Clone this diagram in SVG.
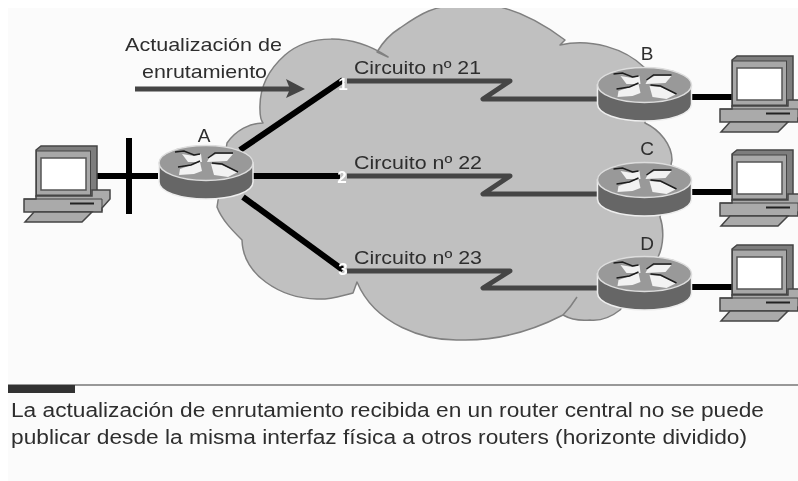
<svg xmlns="http://www.w3.org/2000/svg" width="798" height="481" viewBox="0 0 798 481">
<style>
text{font-family:"Liberation Sans",Arial,sans-serif;fill:#2e2e2e}
.l{font-size:19px}
.cap{font-size:20px}
.n{font-size:17px;font-weight:bold;fill:#fff;text-anchor:middle}
.thick{stroke:#000;stroke-width:6;fill:none}
.ser{stroke:#444;stroke-width:5;fill:none;stroke-linejoin:round}
</style>
<defs>
<filter id="soft" x="-2%" y="-2%" width="104%" height="104%"><feGaussianBlur stdDeviation="0.6"/></filter>
<g id="router">
<path d="M-47 0V19C-47 29-26 36 0 36S47 29 47 19V0Z" fill="#666" stroke="#eee" stroke-width="1.5"/>
<ellipse cx="0" cy="0" rx="47" ry="17.5" fill="#999" stroke="#ddd" stroke-width="1.5"/>
<g fill="#f2f2f2">
<path d="M-24-9-12-7-5-9-4-1-18-1Z"/>
<path d="M-26 6-6-1-4 8-12 11-27 12Z"/>
<path d="M3-5 10-9 27-9 21-2 1-1Z"/>
<path d="M5 1 16 2 32 9 22 14 8 12Z"/>
</g>
<g fill="none" stroke="#1c1c1c" stroke-width="1.4">
<path d="M-31-11-22-12-12-8-6-9"/>
<path d="M-28 4-15 2-6-2"/>
<path d="M2-5 9-10H27"/>
<path d="M6 0 16 1 32 9"/>
</g>
</g>
<g id="pc">
<path d="M36 150 41 146H97V190L92 196H36Z" fill="#7d7d7d" stroke="#444" stroke-width="1.5"/>
<rect x="36.500" y="151" width="54" height="44" fill="#a8a8a8" stroke="#444"/>
<rect x="41" y="158" width="45" height="32" fill="#fff" stroke="#555" stroke-width="1.500"/>
<path d="M24 199H36V196H92V190H110V199L102 208V212H24Z" fill="#aaa" stroke="#444" stroke-width="1.500"/>
<path d="M102 199H24M102 199V211" fill="none" stroke="#444"/>
<path d="M70 203.500H94" stroke="#222" stroke-width="2"/>
<path d="M34 212H92L82 222H25Z" fill="#aaa" stroke="#444" stroke-width="1.500"/>
</g>
</defs>
<rect width="798" height="481" fill="#fff"/>
<rect x="8" y="8" width="790" height="473" fill="#fbfbfb"/>
<g filter="url(#soft)">
<path id="cloud" d="M260 110C259 88 268 70 285 55C308 35 350 32 388 57L377 52C384 40 392 33 400 28C420 14 433 5 470 3C510 3 545 25 565 40L560 45C590 38 625 48 645 68L645 123C660 130 672 145 672 160L660 217C664 228 664 245 658 257L620 310C610 318 600 321 590 320C580 321 570 319 563 315C530 332 495 341 460 340C425 341 375 325 357 282L353 293C340 296 330 300 317 299C280 298 243 275 242 240C232 230 222 220 217 207L227 143C236 130 250 123 263 123C260 119 260 115 260 110Z" fill="#c0c0c0" stroke="#808080" stroke-width="1.500" stroke-linejoin="round"/>
<path d="M577 297C572 305 568 310 563 315" fill="none" stroke="#808080" stroke-width="1.500"/>
<rect width="798" height="8" fill="#fff"/>
<g id="connectors">
<path class="thick" d="M97 176H158M129 138V214M240 150 343 80M253 176H340M243 197 343 270M692 97H733M692 192H733M692 287H733"/>
<path class="ser" d="M347 81H510L483 99H597M347 176H510L483 194H597M347 271H510L483 288H597"/>
<path d="M135 89H290" stroke="#444" stroke-width="5"/>
<path d="M305 89 286 79 290 89 286 98Z" fill="#444"/>
</g>
<g id="pc-a"><use href="#pc"/></g>
<g id="pc-b"><use href="#pc" x="696" y="-90"/></g>
<g id="pc-c"><use href="#pc" x="696" y="4"/></g>
<g id="pc-d"><use href="#pc" x="696" y="99"/></g>
<g id="router-a"><use href="#router" x="206" y="163"/><text class="l" x="204" y="142" text-anchor="middle">A</text></g>
<g id="router-b"><use href="#router" x="644.500" y="85"/><text class="l" x="647" y="60" text-anchor="middle">B</text></g>
<g id="router-c"><use href="#router" x="644.500" y="180"/><text class="l" x="647" y="155" text-anchor="middle">C</text></g>
<g id="router-d"><use href="#router" x="644.500" y="274"/><text class="l" x="647" y="250" text-anchor="middle">D</text></g>
<g id="labels">
<text class="l" x="125" y="51" textLength="157" lengthAdjust="spacingAndGlyphs">Actualización de</text>
<text class="l" x="142" y="78" textLength="125" lengthAdjust="spacingAndGlyphs">enrutamiento</text>
<text class="l" x="354" y="74" textLength="127" lengthAdjust="spacingAndGlyphs">Circuito nº 21</text>
<text class="l" x="354" y="169" textLength="128" lengthAdjust="spacingAndGlyphs">Circuito nº 22</text>
<text class="l" x="354" y="264" textLength="128" lengthAdjust="spacingAndGlyphs">Circuito nº 23</text>
<text class="n" x="343" y="90">1</text>
<text class="n" x="342" y="183">2</text>
<text class="n" x="343" y="275">3</text>
</g>
<g id="caption">
<path d="M8 385H798" stroke="#777" stroke-width="1.500"/>
<rect x="8" y="385" width="67" height="8" fill="#333"/>
<text class="cap" x="11" y="417" textLength="753" lengthAdjust="spacingAndGlyphs">La actualización de enrutamiento recibida en un router central no se puede</text>
<text class="cap" x="11" y="444" textLength="736" lengthAdjust="spacingAndGlyphs">publicar desde la misma interfaz física a otros routers (horizonte dividido)</text>
</g>
</g>
</svg>
